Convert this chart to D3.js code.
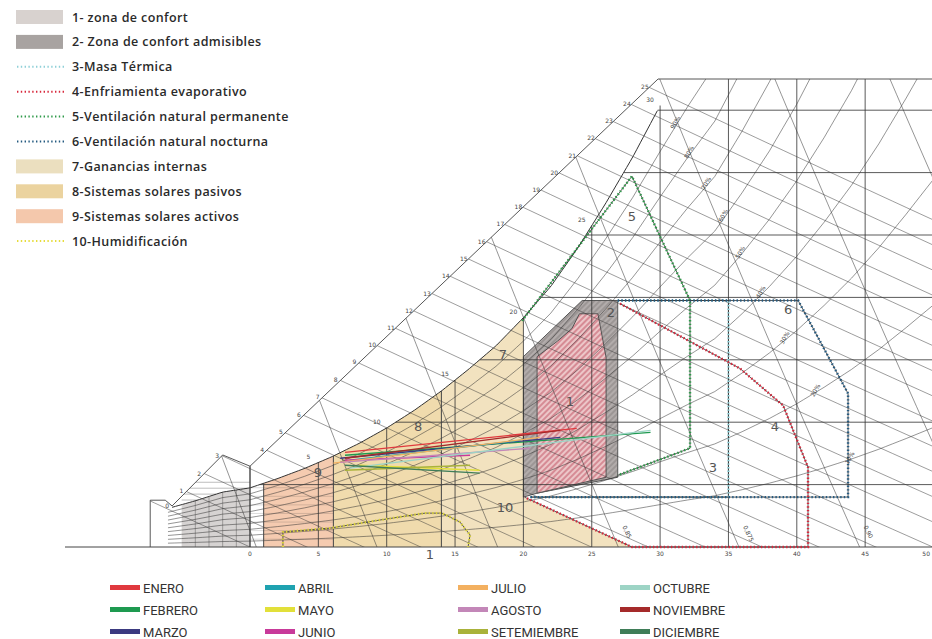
<!DOCTYPE html>
<html><head><meta charset="utf-8">
<script src="https://cdn.jsdelivr.net/npm/d3@7"></script>
<style>body{margin:0;background:#fff}svg{display:block}</style>
</head><body>
<svg id="c" width="932" height="639"></svg>
<script>
// ---------------- DATA ----------------
// saturation humidity ratio (g/kg) vs dry bulb temperature (°C)
const satT = [-8,-6,-4,-2,0,2,4,6,8,10,12,14,16,18,20,22,24,26,28,30,32,34,36,38,40,42,44,46,48,50];
const satW = [2.05,2.47,2.96,3.52,3.79,4.38,5.04,5.79,6.65,7.63,8.75,10.0,11.4,12.9,14.7,16.7,19.2,22.0,25.0,28.3,31.5,34.5,38.8,43.5,48.8,54.8,61.4,68.9,77.3,86.2];
const tempTicks = [0,5,10,15,20,25,30,35,40,45,50];
const tempTopLabels = [5,10,15,20,25,30];
const wGrid = [4,8,12,16,20,24,28];
const enthalpyKcal = d3.range(0,26);
const rhLevels = [0.1,0.2,0.3,0.4,0.5,0.6,0.7,0.8,0.9];
const volLevels = [0.775,0.8,0.825,0.85,0.875,0.9,0.925,0.95];
const volLabels = [{v:0.85,t:"0,85"},{v:0.875,t:"0,875"},{v:0.9,t:"0,90"}];
// chart outline (T, w)
const outline = [[-7.3,0],[-7.3,3.0],[-6.2,3.0],[-5.7,2.63],[-2.0,5.9],[0,5.18],[29.85,30],[50,30],[50,0]];
const scaleLow = [[-5.7,2.63],[-2.0,5.9]];
const scaleUp = [[0,5.18],[29.85,30]];
// zones (T °C, w g/kg)
const zone1 = [[21.0,12.2],[22.5,13.2],[23.55,14.0],[24.1,14.95],[25.45,14.95],[26.05,12.15],[26.05,4.47],[21.0,3.45]];
const zone2 = [[20.0,12.2],[24.3,15.8],[26.9,15.8],[26.9,4.47],[21.0,3.45],[20.0,3.2]];
const zone3 = [[26.9,15.8],[35.0,15.8],[35.0,3.2],[20.5,3.2]];
const zone4 = [[27.07,15.6],[35.85,11.44],[39.0,9.07],[40.82,5.11],[40.82,0],[27.94,0],[20.1,3.19]];
const zone5 = [[19.9,14.5],[27.94,23.77],[32.19,15.8],[32.19,6.33],[26.9,4.6]];
const zone6 = [[26.9,15.8],[40.1,15.8],[43.75,9.84],[43.75,3.2],[20.5,3.2]];
const zone10 = [[2.41,0],[2.41,0.96],[5.85,1.21],[9.51,1.73],[12.8,2.17],[14.05,2.17],[15.36,1.6],[16.1,0.77],[15.95,0]];
const zone7Bounds = [14,20];
const zone7Tri = [[20,3.2],[27.94,0],[20,0]];
const zone8Bounds = [6.1,14];
const zone9Bounds = [1.0,6.1];
const grayBounds = [-5,0];
const zoneLabels = [
  {t:"1",T:23.4,w:9.27},{t:"2",T:26.4,w:15.0},{t:"3",T:33.87,w:5.05},{t:"4",T:38.4,w:7.67},
  {t:"5",T:27.94,w:21.1},{t:"6",T:39.36,w:15.14},{t:"7",T:18.5,w:12.27},{t:"8",T:12.3,w:7.67},
  {t:"9",T:4.97,w:4.73},{t:"10",T:18.65,w:2.49}];
// monthly lines: (Tmin, w at Tmin) -> (Tmax, w at Tmax)
const months = ["ENERO","FEBRERO","MARZO","ABRIL","MAYO","JUNIO","JULIO","AGOSTO","SETEMIEMBRE","OCTUBRE","NOVIEMBRE","DICIEMBRE"];
const monthColors = ["#e0393e","#1e9a50","#3b3a80","#1fa2b0","#e2e03a","#c83a9a","#f3b060","#c387b8","#a9b23a","#9dd4c5","#a52a2a","#3f7d58"];
const monthT1 = [6.95,6.95,6.6,7.3,8.0,6.95,6.1,6.6,6.95,7.3,6.95,6.95];
const monthW1 = [6.07,5.88,5.69,5.56,5.24,5.56,5.37,5.43,4.92,5.05,5.69,5.24];
const monthT2 = [23.9,29.3,22.7,19.8,16.8,16.1,21.2,20.5,16.1,29.3,22.7,16.8];
const monthW2 = [7.6,7.35,7.03,6.84,4.92,5.88,7.03,6.33,5.24,7.48,7.48,4.73];
// top legend
const legendItems = [
  {t:"1- zona  de confort",k:"box",c:"#d8d2cf"},
  {t:"2- Zona de confort admisibles",k:"box",c:"#a8a3a1"},
  {t:"3-Masa Térmica",k:"dot",c:"#8fd0d8"},
  {t:"4-Enfriamienta evaporativo",k:"dot",c:"#d8283c"},
  {t:"5-Ventilación natural permanente",k:"dot",c:"#2f9a4a"},
  {t:"6-Ventilación natural nocturna",k:"dot",c:"#245a80"},
  {t:"7-Ganancias internas",k:"box",c:"#ebdfbf"},
  {t:"8-Sistemas solares pasivos",k:"box",c:"#ebd39f"},
  {t:"9-Sistemas solares activos",k:"box",c:"#f4c8ac"},
  {t:"10-Humidificación",k:"dot",c:"#e6dc3c"}];

// ---------------- SCALES ----------------
const svg = d3.select("#c");
const x = d3.scaleLinear().domain([0,50]).range([250,933.5]);
const y = d3.scaleLinear().domain([0,30]).range([547,79]);
const sat = d3.scaleLinear().domain(satT).range(satW);
const satInv = d3.scaleLinear().domain(satW).range(satT);
const P = 101.325;
const rhW = (T,r)=>{const ws=sat(T);const ps=ws*P/(622+ws);const pv=r*ps;return 622*pv/(P-pv);};
const ln = d3.line().x(d=>x(d[0])).y(d=>y(d[1]));
const enthW = (T,kc)=>{const h=kc*4.1868;return 1000*(h-1.006*T)/(2501+1.86*T);};
const hOf = (T,w)=>1.006*T + w*(2.501+0.00186*T);

const defs = svg.append("defs");
defs.append("clipPath").attr("id","clipOut").append("path").attr("d",ln(outline)+"Z");
const p1 = defs.append("pattern").attr("id","hatch1").attr("width",4).attr("height",4)
  .attr("patternUnits","userSpaceOnUse").attr("patternTransform","rotate(45)");
p1.append("rect").attr("width",4).attr("height",4).attr("fill","#ecc6c8");
p1.append("line").attr("x1",1).attr("y1",0).attr("x2",1).attr("y2",4).attr("stroke","#c45a6a").attr("stroke-width",1.1);
const p2 = defs.append("pattern").attr("id","hatch2").attr("width",4).attr("height",4)
  .attr("patternUnits","userSpaceOnUse").attr("patternTransform","rotate(45)");
p2.append("rect").attr("width",4).attr("height",4).attr("fill","#b2acab");
p2.append("line").attr("x1",1).attr("y1",0).attr("x2",1).attr("y2",4).attr("stroke","#8a8483").attr("stroke-width",1.1);

// ---------------- ZONE FILLS ----------------
const underSat = (a,b)=>{const pts=[[a,0]];for(let t=a;t<=b+1e-6;t+=0.25)pts.push([t,sat(t)]);pts.push([b,sat(b)],[b,0]);return pts;};
const gFill = svg.append("g");
gFill.append("path").attr("d",ln(underSat(...grayBounds))+"Z").attr("fill","#d6d3d2");
gFill.append("path").attr("d",ln(underSat(...zone9Bounds))+"Z").attr("fill","#f5cbb0");
gFill.append("path").attr("d",ln(underSat(...zone8Bounds))+"Z").attr("fill","#f0dbad");
gFill.append("path").attr("d",ln(underSat(...zone7Bounds))+"Z").attr("fill","#f2e2bf");
gFill.append("path").attr("d",ln(zone7Tri)+"Z").attr("fill","#f2e2bf");
gFill.append("path").attr("d",ln(zone2)+"Z").attr("fill","url(#hatch2)").attr("stroke","#555").attr("stroke-width",1);
gFill.append("path").attr("d",ln(zone1)+"Z").attr("fill","url(#hatch1)").attr("stroke","#555").attr("stroke-width",1);

// ---------------- GRID ----------------
const g = svg.append("g").attr("clip-path","url(#clipOut)").attr("fill","none");
const add = (pts,op=0.85,sw=0.7)=>g.append("path").attr("d",ln(pts)).attr("stroke","#333").attr("stroke-width",sw).attr("stroke-opacity",op);
for(let w=0.35; w<4.2; w+=0.38){ const tEnd=Math.min(0,satInv(w)); if(tEnd>-5) add([[-5,w],[tEnd,w]],0.55,0.6);}
for(let t=-4;t<0;t++) add([[t,0],[t,sat(t)]],0.6,0.6);
for(let w=0.5; w<4.3; w+=0.55) add([[0,w],[6.1,w]],0.35,0.5);
enthalpyKcal.forEach(k=>{const pts=[];for(let t=-10;t<=52;t+=1)pts.push([t,enthW(t,k)]);add(pts,0.75,0.65);});
rhLevels.forEach(r=>{const pts=[];for(let t=-6;t<=50;t+=0.5){const w=rhW(t,r);pts.push([t,w]);if(w>31)break;}add(pts,0.8,0.65);});
volLevels.forEach(v=>{const pts=[];for(let w=-1;w<=31;w+=1)pts.push([v*P/(0.287*(1+1.6078*w/1000))-273.15,w]);add(pts,0.8,0.65);});
tempTicks.forEach(t=>{const top=t===0?5.18:Math.min(sat(t),30);add([[t,0],[t,top]],0.9,0.9);});
wGrid.forEach(w=>{add([[Math.max(satInv(w),0),w],[50,w]],0.9,0.9);});
{const pts=[];for(let t=-5.7;t<=30.001;t+=0.25){pts.push([t,sat(t)]);}add(pts,1,1);}
svg.append("path").attr("d",ln(outline.slice(0,8))).attr("fill","none").attr("stroke","#444").attr("stroke-width",0.9);
svg.append("path").attr("d",ln([[0,0],[0,5.18]])).attr("stroke","#444").attr("stroke-width",0.9);
svg.append("line").attr("x1",65).attr("x2",932).attr("y1",y(0)).attr("y2",y(0)).attr("stroke","#444").attr("stroke-width",1);
[zone9Bounds[0],zone8Bounds[0],zone8Bounds[1]].forEach(t=>svg.append("path").attr("d",ln([[t,0],[t,sat(t)]])).attr("stroke","#444").attr("stroke-width",1));

// ---------------- ZONE OUTLINES (dotted) ----------------
function dotted(pts,color){
  const d=ln(pts);
  svg.append("path").attr("d",d).attr("fill","none").attr("stroke","#333").attr("stroke-width",0.8);
  svg.append("path").attr("d",d).attr("fill","none").attr("stroke",color).attr("stroke-width",2.4).attr("stroke-dasharray","1.4,2.2");
}
dotted(zone3,"#8fd0d8");
dotted(zone6,"#245a80");
dotted(zone4,"#d8283c");
dotted(zone5,"#2f9a4a");
dotted(zone10,"#d9d23a");

// ---------------- MONTH LINES ----------------
months.forEach((m,i)=>{
  svg.append("path").attr("d",ln([[monthT1[i],monthW1[i]],[monthT2[i],monthW2[i]]]))
    .attr("stroke",monthColors[i]).attr("stroke-width",1.3).attr("fill","none");
});

// ---------------- LABELS ----------------
const small = {"font-family":"DejaVu Sans","font-size":"6px",fill:"#444"};
function txt(sel,s,X,Y,st){const e=sel.append("text").attr("x",X).attr("y",Y).text(s);Object.entries(st).forEach(([k,v])=>e.attr(k,v));return e;}
tempTicks.forEach(t=>txt(svg,String(t),Math.min(x(t),930),y(0)+9,small).attr("text-anchor",t===50?"end":"middle"));
tempTopLabels.forEach(t=>txt(svg,String(t),x(t)-10,y(sat(t))-4,small).attr("text-anchor","middle"));
function onScale(kc){
  const target=kc*4.1868; const seg = kc<=3?scaleLow:scaleUp;
  for(let s=0;s<=1;s+=0.002){const T=seg[0][0]+(seg[1][0]-seg[0][0])*s, w=seg[0][1]+(seg[1][1]-seg[0][1])*s; if(hOf(T,w)>=target) return [T,w];}
  return seg[1];
}
enthalpyKcal.forEach(k=>{const p=onScale(k);txt(svg,String(k),x(p[0])-5,y(p[1])+2,small).attr("text-anchor","middle");});
rhLevels.forEach(r=>{
  const A=[655,88],B=[880,520];
  let prev=null;
  for(let t=10;t<=50;t+=0.25){const px=x(t),py=y(rhW(t,r));const s=(B[0]-A[0])*(py-A[1])-(B[1]-A[1])*(px-A[0]);
    if(prev!==null && Math.sign(s)!==Math.sign(prev)){ if(py>80&&py<540) txt(svg,Math.round(r*100)+"%",px,py,small).attr("transform",`rotate(-60,${px},${py})`).attr("text-anchor","middle"); break;} prev=s;}
});
volLabels.forEach(o=>{const T=o.v*P/0.287-273.15;const px=x(T)+4,py=y(1.3);txt(svg,o.t,px,py,small).attr("transform",`rotate(65,${px},${py})`);});
const big = {"font-family":"DejaVu Sans","font-size":"13px",fill:"#555"};
zoneLabels.forEach(o=>txt(svg,o.t,x(o.T),y(o.w),big).attr("text-anchor","middle").attr("dominant-baseline","middle"));
txt(svg,"1",430,559,big).attr("text-anchor","middle");

// ---------------- TOP LEGEND ----------------
const lg = svg.append("g");
legendItems.forEach((d,i)=>{
  const yy = 17 + i*24.9;
  if(d.k==="box") lg.append("rect").attr("x",16).attr("y",yy-7).attr("width",47).attr("height",14).attr("fill",d.c);
  else lg.append("line").attr("x1",17).attr("x2",66).attr("y1",yy).attr("y2",yy).attr("stroke",d.c).attr("stroke-width",2).attr("stroke-dasharray","1.4,2.4");
  lg.append("text").attr("x",72).attr("y",yy+4.5).text(d.t).attr("font-family","Open Sans").attr("font-weight",600)
    .attr("font-size","12.5px").attr("letter-spacing","0.4px").attr("fill","#2a2a2a");
});

// ---------------- MONTH LEGEND ----------------
const colX = [110,265,458,620], rowY=[588,610,632];
months.forEach((m,i)=>{
  const c=Math.floor(i/3), r=i%3;
  svg.append("rect").attr("x",colX[c]).attr("y",rowY[r]-3).attr("width",30).attr("height",5).attr("fill",monthColors[i]);
  svg.append("text").attr("x",colX[c]+33).attr("y",rowY[r]+4.5).text(m).attr("font-family","Liberation Sans Narrow, Roboto, sans-serif").attr("font-size","13px").attr("fill","#333");
});
</script>
</body></html>
